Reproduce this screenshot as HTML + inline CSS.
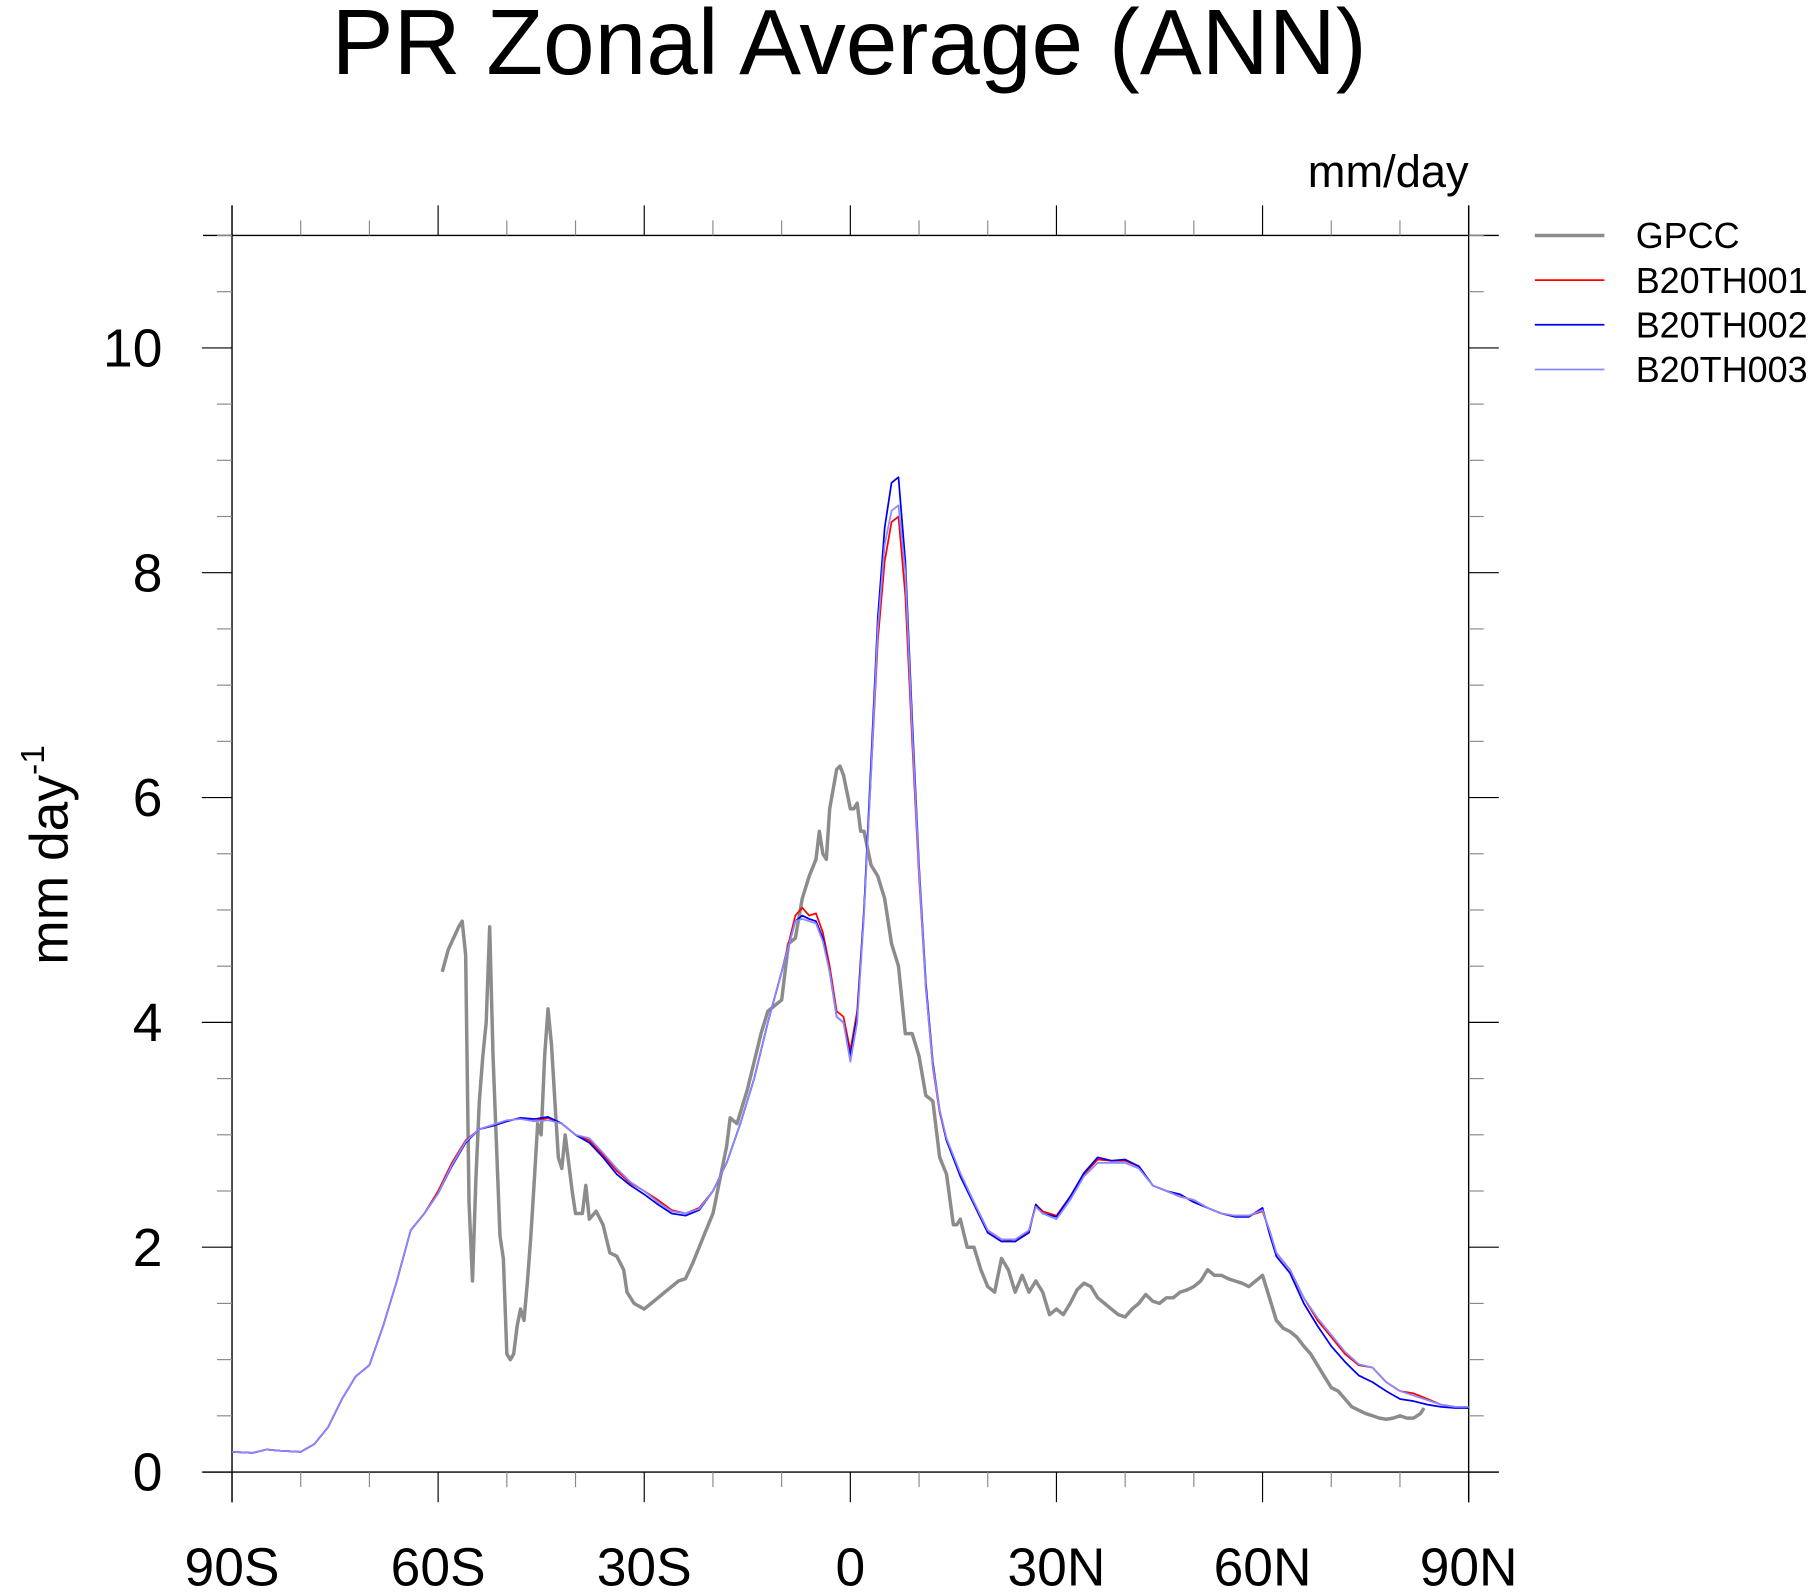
<!DOCTYPE html>
<html><head><meta charset="utf-8"><style>html,body{margin:0;padding:0;background:#fff}svg{display:block}text{font-family:"Liberation Sans",sans-serif}</style></head>
<body>
<svg id="chart" width="1819" height="1595" viewBox="0 0 1568 1375" preserveAspectRatio="none" xmlns="http://www.w3.org/2000/svg">
<text x="732" y="64" font-size="80" text-anchor="middle">PR Zonal Average (ANN)</text>
<text x="1266" y="161" font-size="39" text-anchor="end">mm/day</text>
<text transform="translate(58,737) rotate(-90)" font-size="46" text-anchor="middle">mm day<tspan font-size="29" dy="-20">-1</tspan></text>
<g id="axes"></g>
<g id="series"></g>
<g id="legend"></g>
</svg>
<script>
const xTickLabels = ["90S","60S","30S","0","30N","60N","90N"];
const xTickValues = [-90,-60,-30,0,30,60,90];
const yTickValues = [0,2,4,6,8,10];
const modelLat = [-90,-87,-85,-83,-80,-78,-76,-74,-72,-70,-68,-66,-64,-62,-60,-58,-56,-54,-52,-50,-48,-46,-44,-42,-40,-38,-36,-34,-32,-30,-28,-26,-24,-22,-20,-18,-16,-14,-12,-10,-8,-7,-6,-5,-4,-3,-2,-1,0,1,2,3,4,5,6,7,8,9,10,11,12,13,14,16,18,20,22,24,26,27,28,30,32,34,36,38,40,42,44,46,48,50,52,54,56,58,60,61,62,64,66,68,70,72,74,76,78,80,82,84,86,88,90];
const b001 = [0.18,0.17,0.2,0.19,0.18,0.25,0.4,0.65,0.85,0.95,1.3,1.7,2.15,2.3,2.5,2.75,2.95,3.05,3.08,3.12,3.15,3.12,3.15,3.1,3.0,2.95,2.82,2.68,2.57,2.5,2.42,2.33,2.3,2.35,2.5,2.75,3.1,3.5,4.0,4.45,4.95,5.02,4.95,4.97,4.8,4.5,4.1,4.05,3.75,4.1,5.0,6.2,7.4,8.1,8.45,8.5,7.8,6.5,5.3,4.3,3.6,3.2,2.95,2.65,2.4,2.15,2.07,2.05,2.15,2.38,2.32,2.28,2.45,2.65,2.78,2.77,2.77,2.72,2.55,2.5,2.45,2.42,2.35,2.3,2.28,2.28,2.32,2.15,1.95,1.8,1.55,1.35,1.2,1.05,0.95,0.93,0.8,0.72,0.7,0.65,0.6,0.58,0.58];
const b002 = [0.18,0.17,0.2,0.19,0.18,0.25,0.4,0.65,0.85,0.95,1.3,1.7,2.15,2.3,2.48,2.72,2.93,3.05,3.08,3.12,3.15,3.14,3.16,3.1,3.0,2.93,2.8,2.65,2.55,2.47,2.38,2.3,2.28,2.33,2.5,2.75,3.1,3.5,4.0,4.45,4.9,4.95,4.92,4.9,4.75,4.45,4.05,4.0,3.7,4.05,5.0,6.3,7.6,8.4,8.8,8.85,8.1,6.7,5.4,4.35,3.65,3.22,2.95,2.63,2.38,2.13,2.05,2.05,2.13,2.38,2.3,2.27,2.45,2.66,2.8,2.77,2.78,2.72,2.55,2.5,2.47,2.4,2.35,2.3,2.27,2.27,2.35,2.12,1.92,1.77,1.5,1.3,1.12,0.98,0.86,0.8,0.72,0.65,0.63,0.6,0.58,0.57,0.57];
const b003 = [0.18,0.17,0.2,0.19,0.18,0.25,0.4,0.65,0.85,0.95,1.3,1.7,2.15,2.3,2.48,2.73,2.94,3.05,3.09,3.13,3.14,3.12,3.13,3.1,3.0,2.97,2.84,2.7,2.58,2.5,2.4,2.32,2.3,2.34,2.5,2.75,3.1,3.5,4.0,4.45,4.9,4.92,4.9,4.88,4.72,4.45,4.05,4.0,3.65,4.0,4.95,6.2,7.5,8.25,8.55,8.6,8.0,6.6,5.35,4.3,3.62,3.22,2.97,2.66,2.4,2.15,2.07,2.07,2.15,2.36,2.3,2.25,2.42,2.63,2.75,2.75,2.75,2.7,2.55,2.5,2.45,2.42,2.35,2.3,2.28,2.28,2.33,2.15,1.95,1.8,1.55,1.37,1.22,1.07,0.96,0.93,0.8,0.72,0.68,0.64,0.6,0.58,0.58];
const gpccLat = [-59.4,-58.5,-57,-56.5,-56,-55.5,-55,-54.5,-54,-53.5,-53,-52.5,-52,-51,-50.5,-50,-49.5,-49,-48.5,-48,-47.5,-47,-46.5,-46,-45.5,-45,-44.5,-44,-43.5,-43,-42.5,-42,-41.5,-41,-40.5,-40,-39,-38.5,-38,-37,-36,-35,-34,-33,-32.5,-31.5,-30,-29,-28,-27,-26,-25,-24,-23,-22,-21,-20,-19,-18,-17.5,-16.5,-15,-14,-13,-12,-11,-10,-9,-8,-7,-6,-5,-4.5,-4,-3.5,-3,-2,-1.5,-1,0,0.5,1,1.5,2,3,4,5,6,7,8,9,10,11,12,13,14,15,15.5,16,17,18,19,20,21,22,23,24,25,26,27,28,29,30,31,32,33,34,35,36,37,38,39,40,41,42,43,44,45,46,47,48,49,50,51,52,53,54,55,56,57,58,59,60,61,62,63,64,65,66,67,68,69,70,71,72,73,74,75,76,77,78,79,80,81,82,83,83.5];
const gpcc = [4.45,4.65,4.85,4.9,4.6,2.4,1.7,2.6,3.3,3.7,4.0,4.85,3.7,2.1,1.9,1.05,1.0,1.05,1.3,1.45,1.35,1.7,2.1,2.6,3.1,3.0,3.7,4.12,3.8,3.3,2.8,2.7,3.0,2.75,2.5,2.3,2.3,2.55,2.25,2.32,2.2,1.95,1.92,1.8,1.6,1.5,1.45,1.5,1.55,1.6,1.65,1.7,1.72,1.85,2.0,2.15,2.3,2.6,2.9,3.15,3.1,3.4,3.65,3.9,4.1,4.15,4.2,4.7,4.75,5.1,5.3,5.45,5.7,5.5,5.45,5.9,6.25,6.28,6.2,5.9,5.9,5.95,5.7,5.7,5.4,5.3,5.1,4.7,4.5,3.9,3.9,3.7,3.35,3.3,2.8,2.65,2.2,2.2,2.25,2.0,2.0,1.8,1.65,1.6,1.9,1.8,1.6,1.75,1.6,1.7,1.6,1.4,1.45,1.4,1.5,1.62,1.68,1.65,1.55,1.5,1.45,1.4,1.38,1.45,1.5,1.58,1.52,1.5,1.55,1.55,1.6,1.62,1.65,1.7,1.8,1.75,1.75,1.72,1.7,1.68,1.65,1.7,1.75,1.55,1.35,1.28,1.25,1.2,1.12,1.05,0.95,0.85,0.75,0.72,0.65,0.58,0.55,0.52,0.5,0.48,0.47,0.48,0.5,0.48,0.48,0.52,0.57];

const L=200,R=1266,T=203,B=1269,YMAX=11;
const xs = v => L + (v+90)/180*(R-L);
const ys = v => B - v/YMAX*(B-T);
const NS="http://www.w3.org/2000/svg";
function mk(tag, attrs, parent){const e=document.createElementNS(NS,tag);for(const k in attrs)e.setAttribute(k,attrs[k]);parent.appendChild(e);return e;}
const ax=document.getElementById('axes');
let e;
e=mk('line',{x1:L,y1:177,x2:L,y2:1295,stroke:'#000','stroke-width':1.2},ax);


e=mk('line',{x1:R,y1:177,x2:R,y2:1295,stroke:'#000','stroke-width':1.2},ax);


e=mk('line',{x1:175,y1:T,x2:1292,y2:T,stroke:'#000','stroke-width':1.2},ax);


e=mk('line',{x1:175,y1:B,x2:1292,y2:B,stroke:'#000','stroke-width':1.2},ax);


for(let v=-90;v<=90;v+=10){
  const major = v%30===0, len = major?26:13, x=xs(v);
  e=mk('line',{x1:x,y1:T,x2:x,y2:T-len,stroke:major?'#000':'#888','stroke-width':1},ax);
  
  
  e=mk('line',{x1:x,y1:B,x2:x,y2:B+len,stroke:major?'#000':'#888','stroke-width':1},ax);
  
  
}
xTickValues.forEach((v,i)=>{
  const t=mk('text',{x:xs(v),y:1367,'font-size':46,'text-anchor':'middle'},ax);
  t.textContent=xTickLabels[i];
  
  
});
for(let v=0;v<=11;v+=0.5){
  const major = Math.abs(v%2)<1e-9, len=major?26:13, y=ys(v);
  e=mk('line',{x1:L,y1:y,x2:L-len,y2:y,stroke:major?'#000':'#888','stroke-width':1},ax);
  
  
  e=mk('line',{x1:R,y1:y,x2:R+len,y2:y,stroke:major?'#000':'#888','stroke-width':1},ax);
  
  
}
yTickValues.forEach(v=>{
  const t=mk('text',{x:140,y:ys(v)+16,'font-size':46,'text-anchor':'end'},ax);
  t.textContent=String(v);
  
  
});
const sg=document.getElementById('series');
function line(lat,vals,color,w,name){
  const d=lat.map((la,i)=>(i?'L':'M')+xs(la).toFixed(1)+','+ys(vals[i]).toFixed(1)).join(' ');
  const p=mk('path',{d:d,fill:'none',stroke:color,'stroke-width':w,'stroke-linejoin':'round'},sg);
  
  
}
line(gpccLat,gpcc,'#8c8c8c',3,'gpcc-line');
line(modelLat,b001,'#ff0000',1.5,'b20th001-line');
line(modelLat,b002,'#0000ee',1.5,'b20th002-line');
line(modelLat,b003,'#8a8aff',1.5,'b20th003-line');
const lg=document.getElementById('legend');
const entries=[["GPCC","#8c8c8c",3],["B20TH001","#ff0000",1.5],["B20TH002","#0000ee",1.5],["B20TH003","#8a8aff",1.5]];
entries.forEach((en,i)=>{
  const y=203+i*38.5;
  const g=mk('g',{},lg);
  
  
  mk('line',{x1:1323,y1:y,x2:1383,y2:y,stroke:en[1],'stroke-width':en[2]},g);
  const t=mk('text',{x:1410,y:y+11,'font-size':31},g);
  t.textContent=en[0];
});
</script>
</body></html>
